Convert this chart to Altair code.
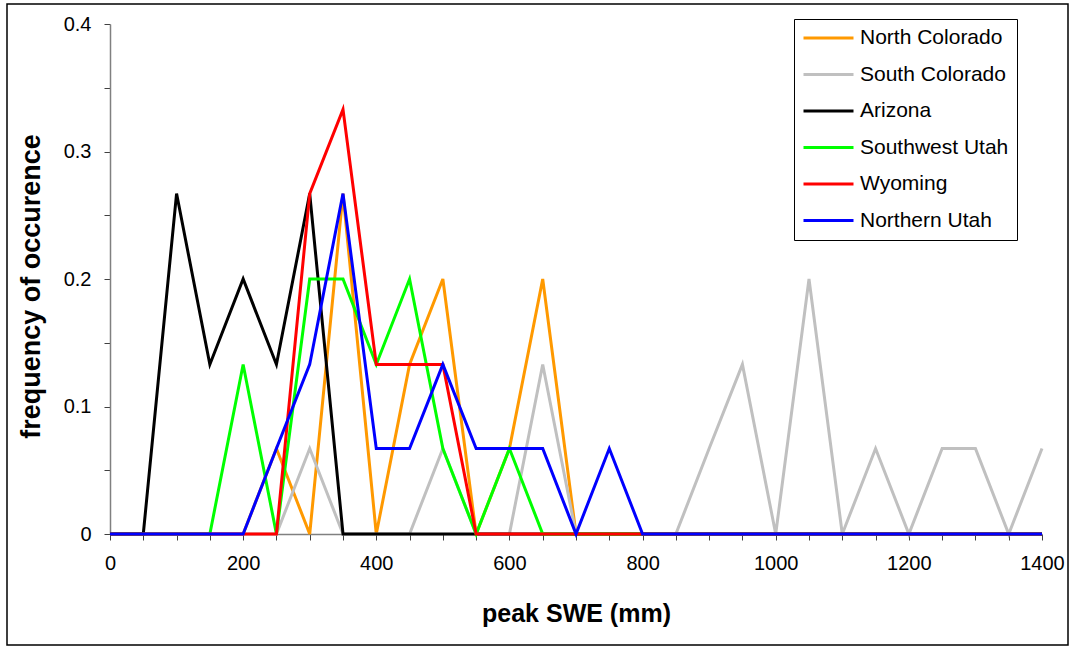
import altair as alt
import pandas as pd

# x positions (peak SWE, mm)
swe = list(range(0, 1401, 50))

regions = ["North Colorado", "South Colorado", "Arizona", "Southwest Utah", "Wyoming", "Northern Utah"]
colors = ["#FF9900", "#C0C0C0", "#000000", "#00FF00", "#FF0000", "#0000FF"]

north_colorado = [0, 0, 0, 0, 0, 0.067, 0, 0.267, 0, 0.133, 0.2, 0, 0.067, 0.2, 0] + [0] * 14
south_colorado = [0, 0, 0, 0, 0, 0, 0.067, 0, 0, 0, 0.067, 0, 0, 0.133, 0, 0, 0, 0,
                  0.067, 0.133, 0, 0.2, 0, 0.067, 0, 0.067, 0.067, 0, 0.067]
arizona = [0, 0, 0.267, 0.133, 0.2, 0.133, 0.267, 0] + [0] * 21
southwest_utah = [0, 0, 0, 0, 0.133, 0, 0.2, 0.2, 0.133, 0.2, 0.067, 0, 0.067, 0] + [0] * 15
wyoming = [0, 0, 0, 0, 0, 0, 0.267, 0.333, 0.133, 0.133, 0.133, 0] + [0] * 17
northern_utah = [0, 0, 0, 0, 0, 0.067, 0.133, 0.267, 0.067, 0.067, 0.133, 0.067, 0.067,
                 0.067, 0, 0.067, 0] + [0] * 12

series = [north_colorado, south_colorado, arizona, southwest_utah, wyoming, northern_utah]

rows = []
for name, vals in zip(regions, series):
    for xv, yv in zip(swe, vals):
        rows.append({"region": name, "swe": xv, "freq": yv})
df = pd.DataFrame(rows)

x_ticks = list(range(0, 1401, 50))
y_ticks = [0, 0.05, 0.1, 0.15, 0.2, 0.25, 0.3, 0.35, 0.4]

FONT = "Liberation Sans"

x_enc = alt.X(
    "swe:Q",
    scale=alt.Scale(domain=[0, 1400], nice=False),
    axis=alt.Axis(
        values=x_ticks,
        labelExpr="datum.value % 200 == 0 ? format(datum.value, 'd') : ''",
        title="peak SWE (mm)",
        grid=False,
        domainColor="#808080",
        domainWidth=1.5,
        tickColor="#404040",
        tickSize=6,
        labelPadding=13,
        labelFontSize=20,
        labelFont=FONT,
        labelColor="#000000",
        labelFlush=False,
        labelOverlap=False,
        titleFont=FONT,
        titleFontSize=25,
        titleFontWeight="bold",
        titleColor="#000000",
        titleX=466,
        titleY=87,
        titleAlign="center",
        titleBaseline="alphabetic",
    ),
)

y_enc = alt.Y(
    "freq:Q",
    scale=alt.Scale(domain=[0, 0.4], nice=False),
    axis=alt.Axis(
        values=y_ticks,
        labelExpr="round(datum.value * 100) % 10 == 0 ? (datum.value == 0 ? '0' : format(datum.value, '.1f')) : ''",
        title="frequency of occurence",
        grid=False,
        domainColor="#808080",
        domainWidth=1.5,
        tickColor="#404040",
        tickSize=6,
        labelPadding=13,
        labelFontSize=20,
        labelFont=FONT,
        labelColor="#000000",
        labelFlush=False,
        labelOverlap=False,
        titleFont=FONT,
        titleFontSize=27,
        titleFontWeight="bold",
        titleColor="#000000",
        titleAngle=270,
        titleX=-79,
        titleY=262,
        titleAlign="center",
        titleBaseline="middle",
    ),
)

color_enc = alt.Color(
    "region:N",
    scale=alt.Scale(domain=regions, range=colors),
    legend=alt.Legend(
        title=None,
        orient="none",
        legendX=684,
        legendY=-5,
        symbolType="stroke",
        symbolSize=2500,
        symbolStrokeWidth=3,
        labelFont=FONT,
        labelFontSize=21,
        labelColor="#000000",
        labelOffset=5,
        clipHeight=22,
        rowPadding=14.5,
        padding=8,
        strokeColor="#000000",
        fillColor="#FFFFFF",
        labelLimit=400,
    ),
)

base = alt.Chart(df).mark_line(strokeWidth=3).encode(
    x=x_enc, y=y_enc, color=color_enc, order=alt.Order("swe:Q")
)

layers = [base.transform_filter(alt.datum.region == r) for r in regions]

frame = alt.Chart(pd.DataFrame({"a": [0]})).mark_rect(
    fillOpacity=0, stroke="#000000", strokeWidth=1.5
).encode(
    x=alt.value(-103), x2=alt.value(958), y=alt.value(-20), y2=alt.value(621)
)

chart = alt.layer(frame, *layers).properties(
    width=932,
    height=510,
    padding={"left": 110, "top": 24, "right": 31, "bottom": 112},
    autosize=alt.AutoSizeParams(type="none"),
    background="#FFFFFF",
).configure_view(strokeWidth=0)

chart.save("out.html", embed_options={"renderer": "svg", "actions": False})
